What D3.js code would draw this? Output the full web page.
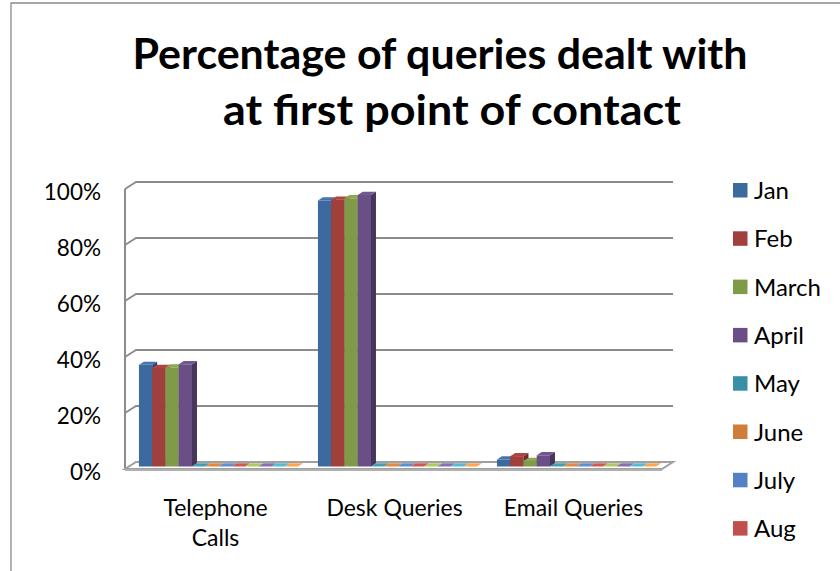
<!DOCTYPE html>
<html>
<head>
<meta charset="utf-8">
<script src="https://cdn.jsdelivr.net/npm/d3@7"></script>
<style>
  html, body { margin: 0; padding: 0; background: #ffffff; }
  svg { display: block; }
  text { font-family: Lato, "Open Sans", sans-serif; fill: #000; }
</style>
</head>
<body>
<svg id="chart" width="840" height="571"></svg>
<script>
// ---- data ----
const titleLines = ["Percentage of queries dealt with", "at first point of contact"];
const categories = ["Telephone Calls", "Desk Queries", "Email Queries"];
const categoryLines = [["Telephone", "Calls"], ["Desk Queries"], ["Email Queries"]];
const months = ["Jan", "Feb", "March", "April", "May", "June", "July", "Aug", "Sept", "Oct", "Nov", "Dec"];
// legend entries that fit in the chart area (the rest are clipped in the reference)
const legendMonths = ["Jan", "Feb", "March", "April", "May", "June", "July", "Aug"];
// monthly values (%) per category
const telephoneCalls = [36.3, 35.2, 35.4, 36.5, 0, 0, 0, 0, 0, 0, 0, 0];
const deskQueries    = [95.0, 95.3, 95.8, 97.0, 0, 0, 0, 0, 0, 0, 0, 0];
const emailQueries   = [2.5, 3.7, 2.0, 4.0, 0, 0, 0, 0, 0, 0, 0, 0];
const yTicks = [0, 20, 40, 60, 80, 100];
const monthColors = ["#3D6A9E", "#A03F3C", "#7F9B48", "#6A4F86", "#3B8FA5", "#D07D3A",
                     "#5282C4", "#C04F4D", "#9BBB59", "#8064A2", "#4BACC6", "#F79646"];

const valuesByCategory = [telephoneCalls, deskQueries, emailQueries];

// ---- layout ----
const svg = d3.select("#chart");
const W = 840, H = 571;

// frame (left and top edges visible)
svg.append("path")
  .attr("d", `M11,${H} L11,3 L${W},3`)
  .attr("fill", "none").attr("stroke", "#8a8a8a").attr("stroke-width", 1.3);

// title
const titleX = [440, 452];
const titleY = [69, 125];
const titleLen = [615, 458];
titleLines.forEach((t, i) => {
  svg.append("text")
    .attr("x", titleX[i]).attr("y", titleY[i])
    .attr("text-anchor", "middle")
    .attr("font-size", 42).attr("font-weight", "bold")
    .attr("textLength", titleLen[i]).attr("lengthAdjust", "spacingAndGlyphs")
    .text(t);
});

// 3D geometry: bar plane scales; walls are offsets of this plane
const y = d3.scaleLinear().domain([0, 100]).range([466.5, 186.5]);
const x = d3.scaleBand().domain(categories).range([129, 666]).paddingInner(0).paddingOuter(0);
const xs = d3.scaleBand().domain(months).range([0, x.bandwidth()]).paddingInner(0).paddingOuter(0.75);

const backDx = 7, backDy = -4.5;   // bar plane -> back wall
const frontDx = -4, frontDy = 2.5; // bar plane -> front edge
const depthDx = 5, depthDy = -3.2; // bar depth

const xLeft = x.range()[0], xRight = x.range()[1];
const gridColor = "#8c8c8c";

const grid = svg.append("g");
// left wall front edge
grid.append("line")
  .attr("x1", xLeft + frontDx).attr("x2", xLeft + frontDx)
  .attr("y1", y(100) + frontDy).attr("y2", y(0) + frontDy)
  .attr("stroke", gridColor).attr("stroke-width", 2);

yTicks.filter(v => v > 0).forEach(v => {
  grid.append("path")
    .attr("d", `M${xLeft + frontDx},${y(v) + frontDy} L${xLeft + backDx},${y(v) + backDy} L${xRight + backDx},${y(v) + backDy}`)
    .attr("fill", "none").attr("stroke", gridColor).attr("stroke-width", 2);
});

// floor
svg.append("path")
  .attr("d", `M${xLeft + frontDx},${y(0) + frontDy} L${xRight + frontDx},${y(0) + frontDy} L${xRight + backDx},${y(0) + backDy} L${xLeft + backDx},${y(0) + backDy} Z`)
  .attr("fill", "#ffffff").attr("stroke", "#a0a0a0").attr("stroke-width", 2);
svg.append("line")
  .attr("x1", xLeft + frontDx).attr("x2", xRight + frontDx)
  .attr("y1", y(0) + frontDy + 1).attr("y2", y(0) + frontDy + 1)
  .attr("stroke", "#b0b0b0").attr("stroke-width", 2);

// bars
const bars = svg.append("g");
categories.forEach((cat, ci) => {
  const vals = valuesByCategory[ci];
  months.forEach((m, mi) => {
    const c = d3.color(monthColors[mi]);
    const x0 = x(cat) + xs(m);
    const w = xs.bandwidth();
    const yTop = y(vals[mi]);
    const yBase = y(0);
    // front face
    bars.append("rect")
      .attr("x", x0).attr("y", yTop).attr("width", w).attr("height", yBase - yTop)
      .attr("fill", c.formatHex());
    // side face
    bars.append("path")
      .attr("d", `M${x0 + w},${yTop} L${x0 + w + depthDx},${yTop + depthDy} L${x0 + w + depthDx},${yBase + depthDy} L${x0 + w},${yBase} Z`)
      .attr("fill", c.darker(1.1).formatHex());
    // top face
    bars.append("path")
      .attr("d", `M${x0},${yTop} L${x0 + depthDx},${yTop + depthDy} L${x0 + w + depthDx},${yTop + depthDy} L${x0 + w},${yTop} Z`)
      .attr("fill", c.brighter(0.25).formatHex());
  });
});

// y axis labels
const yFront = d3.scaleLinear().domain([0, 100]).range([y(0) + frontDy, y(100) + frontDy]);
const yAxis = d3.axisLeft(yFront).tickValues(yTicks).tickSize(0).tickPadding(0)
  .tickFormat(d => d + "%");
const yAxisG = svg.append("g").attr("transform", "translate(101,0)").call(yAxis);
yAxisG.select(".domain").remove();
yAxisG.selectAll("text")
  .attr("font-family", "Lato, 'Open Sans', sans-serif")
  .attr("font-size", 22.5).attr("fill", "#000")
  .attr("dy", "0.32em").attr("y", 3);

// category labels
categories.forEach((cat, ci) => {
  const cx = x(cat) + frontDx + x.bandwidth() / 2 + 1;
  categoryLines[ci].forEach((line, li) => {
    svg.append("text")
      .attr("x", cx).attr("y", 516 + li * 30)
      .attr("text-anchor", "middle").attr("font-size", 23)
      .text(line);
  });
});

// legend
const legend = svg.append("g");
legendMonths.forEach((m, i) => {
  const cy = 190.5 + i * 48.3;
  legend.append("rect")
    .attr("x", 733).attr("y", cy - 7.5).attr("width", 14.5).attr("height", 14.5)
    .attr("fill", monthColors[months.indexOf(m)]);
  legend.append("text")
    .attr("x", 754).attr("y", cy + 8.5)
    .attr("font-size", 24)
    .text(m);
});
</script>
</body>
</html>
